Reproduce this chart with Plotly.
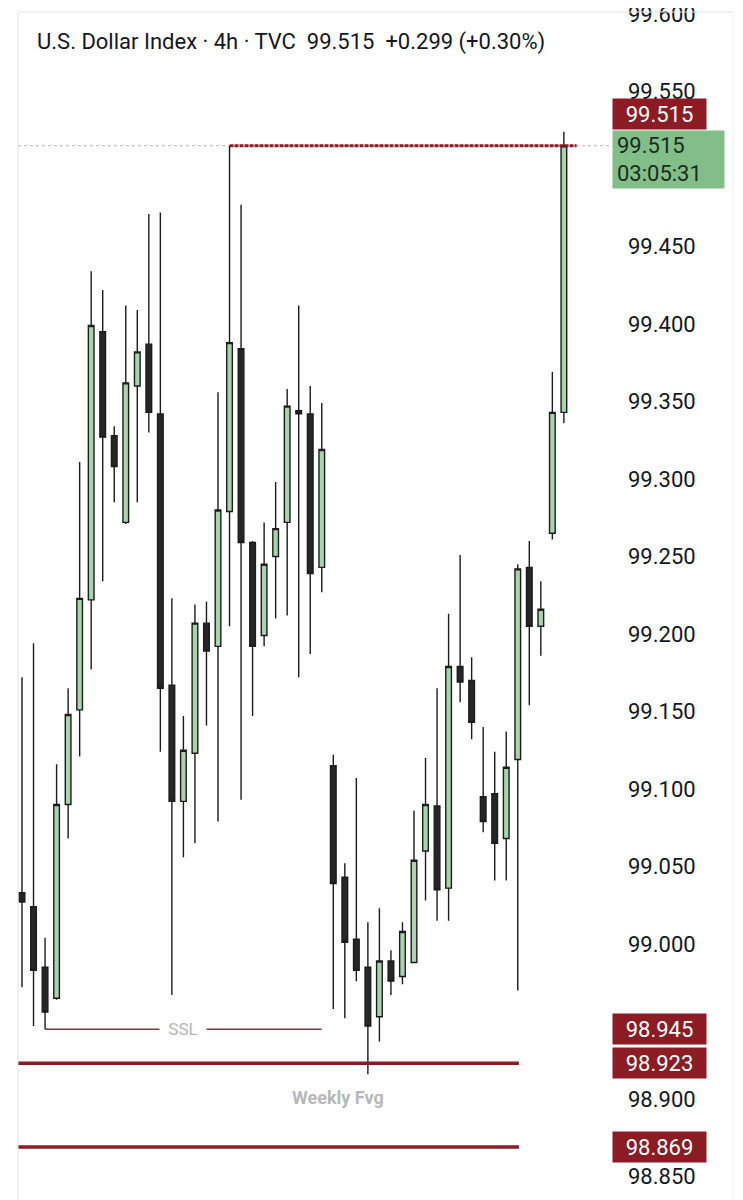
import plotly.graph_objects as go

# ---- data ----
opens = [99.033, 99.024, 98.985, 98.965, 99.090, 99.151, 99.222, 99.395, 99.328, 99.272,
         99.360, 99.387, 99.342, 99.167, 99.092, 99.123, 99.207, 99.192, 99.279, 99.384,
         99.259, 99.199, 99.250, 99.272, 99.344, 99.342, 99.243, 99.115, 99.043, 99.003,
         98.985, 98.953, 98.989, 98.979, 98.988, 99.060, 99.089, 99.036, 99.179, 99.170,
         99.095, 99.097, 99.068, 99.119, 99.243, 99.205, 99.265, 99.343]
highs = [99.172, 99.194, 99.004, 99.116, 99.165, 99.311, 99.434, 99.422, 99.334, 99.412,
         99.409, 99.471, 99.472, 99.223, 99.147, 99.219, 99.221, 99.356, 99.515, 99.477,
         99.260, 99.272, 99.298, 99.358, 99.412, 99.360, 99.349, 99.122, 99.052, 99.107,
         99.014, 99.023, 98.996, 99.014, 99.086, 99.120, 99.165, 99.213, 99.251, 99.185,
         99.140, 99.124, 99.137, 99.245, 99.260, 99.234, 99.369, 99.524]
lows = [98.972, 98.947, 98.945, 98.964, 99.068, 99.121, 99.177, 99.234, 99.285, 99.271,
        99.285, 99.330, 99.124, 98.967, 99.056, 99.065, 99.141, 99.079, 99.205, 99.093,
        99.147, 99.192, 99.210, 99.212, 99.172, 99.187, 99.227, 98.958, 98.952, 98.976,
        98.916, 98.937, 98.967, 98.974, 98.988, 99.028, 99.015, 99.015, 99.156, 99.132,
        99.072, 99.041, 99.041, 98.970, 99.154, 99.186, 99.261, 99.336]
closes = [99.027, 98.983, 98.956, 99.090, 99.148, 99.223, 99.399, 99.327, 99.308, 99.362,
          99.382, 99.343, 99.165, 99.092, 99.125, 99.207, 99.189, 99.280, 99.388, 99.259,
          99.192, 99.245, 99.268, 99.347, 99.342, 99.239, 99.319, 99.039, 99.001, 98.983,
          98.947, 98.989, 98.976, 99.008, 99.054, 99.090, 99.035, 99.179, 99.169, 99.143,
          99.079, 99.065, 99.114, 99.242, 99.205, 99.216, 99.343, 99.515]
bar_index = list(range(len(opens)))

tick_vals = [99.600, 99.550, 99.450, 99.400, 99.350, 99.300, 99.250, 99.200, 99.150,
             99.100, 99.050, 99.000, 98.900, 98.850]
tick_text = ["%.3f" % v for v in tick_vals]

title_text = "U.S. Dollar Index · 4h · TVC\u00a0\u00a099.515\u00a0\u00a0+0.299 (+0.30%)"
price_now = 99.515
countdown = "03:05:31"
high_level = 99.515          # red line from candle 18 high
high_level_start = 18
ssl_level = 98.945
ssl_start, ssl_end = 2, 26
fvg_top = 98.923
fvg_bottom = 98.869
fvg_end = 43.1
marker_labels = [98.945, 98.923, 98.869]

# ---- styles ----
RED = "#8c1c24"
GREEN_FILL = "#a8d4ad"
DARK_FILL = "#262626"
OUTLINE = "#1c1c1c"
TXT = "#131722"
FONT = "Roboto"

fig = go.Figure()
fig.add_trace(go.Candlestick(
    x=bar_index, open=opens, high=highs, low=lows, close=closes,
    increasing=dict(line=dict(color=OUTLINE, width=1.4), fillcolor=GREEN_FILL),
    decreasing=dict(line=dict(color=OUTLINE, width=1.4), fillcolor=DARK_FILL),
    whiskerwidth=0, showlegend=False, hoverinfo="skip",
))

shapes = []
# current price faint dotted line
shapes.append(dict(type="line", xref="paper", x0=0, x1=1, yref="y", y0=price_now, y1=price_now,
                   line=dict(color="#b2b5be", width=1, dash="dot"), layer="below"))
# red high line
shapes.append(dict(type="line", xref="x", x0=high_level_start, x1=48.1, yref="y",
                   y0=high_level, y1=high_level,
                   line=dict(color=RED, width=3, dash="4px,1px")))
# SSL line
shapes.append(dict(type="line", xref="x", x0=ssl_start, x1=ssl_end, yref="y",
                   y0=ssl_level, y1=ssl_level, line=dict(color="#7a3a3f", width=1.5),
                   layer="below"))
# weekly fvg lines
for lv in (fvg_top, fvg_bottom):
    shapes.append(dict(type="line", xref="x", x0=-0.35, x1=fvg_end, yref="y",
                       y0=lv, y1=lv, line=dict(color=RED, width=3.5)))
# pane borders
R = (733 - 18) / 592
shapes.append(dict(type="line", xref="paper", yref="paper", x0=0, x1=0, y0=0, y1=1,
                   line=dict(color="#e0e3eb", width=1)))
shapes.append(dict(type="line", xref="paper", yref="paper", x0=0, x1=R, y0=1, y1=1,
                   line=dict(color="#e0e3eb", width=1)))
shapes.append(dict(type="line", xref="paper", yref="paper", x0=R, x1=R, y0=0, y1=1,
                   line=dict(color="#eceef2", width=1)))

ann = []
ann.append(dict(text=title_text, xref="paper", yref="paper", x=(35 - 18) / 592,
                y=1 - (42 - 12) / 1188, xanchor="left", yanchor="middle", showarrow=False,
                font=dict(family=FONT, size=22, color=TXT)))
ann.append(dict(text="SSL", xref="x", yref="y", x=14, y=ssl_level, showarrow=False,
                bgcolor="white", width=40, borderpad=3, xanchor="center", yanchor="middle",
                font=dict(family=FONT, size=17, color="#b5b5b5")))
ann.append(dict(text="<b>Weekly Fvg</b>", xref="x", yref="y", x=27.4,
                y=(fvg_top + fvg_bottom) / 2 + 0.005, showarrow=False,
                xanchor="center", yanchor="middle",
                font=dict(family=FONT, size=18, color="#b8b8b8")))
LX = (612 - 18) / 592
# red high label (shifted above current-price label)
ann.append(dict(text=f"{high_level:.3f}", xref="paper", yref="y", x=LX, y=high_level,
                yshift=32, xanchor="left", yanchor="middle", showarrow=False,
                bgcolor=RED, width=85, height=22, borderpad=4, align="center",
                font=dict(family=FONT, size=22, color="white")))
# current price label
ann.append(dict(text=f"{price_now:.3f}<br>{countdown}", xref="paper", yref="y", x=LX,
                y=price_now, yshift=-14, xanchor="left", yanchor="middle", showarrow=False,
                bgcolor="#82be88", width=103, height=49, borderpad=4, align="left",
                font=dict(family=FONT, size=22, color="#1d2b1f")))
for lv in marker_labels:
    ann.append(dict(text=f"{lv:.3f}", xref="paper", yref="y", x=LX, y=lv,
                    xanchor="left", yanchor="middle", showarrow=False,
                    bgcolor=RED, width=85, height=22, borderpad=4, align="center",
                    font=dict(family=FONT, size=22, color="white")))

# page body has an 8px default margin, so offset the plot area by that amount
fig.update_layout(
    width=743, height=1200,
    margin=dict(l=10, r=141, t=4, b=8, autoexpand=False),
    paper_bgcolor="white", plot_bgcolor="white",
    showlegend=False,
    boxgap=0.3,
    shapes=shapes, annotations=ann,
    xaxis=dict(range=[-0.347, 51.0], showgrid=False, showticklabels=False, zeroline=False,
               showline=False, ticks="", rangeslider=dict(visible=False), fixedrange=True,
               automargin=False),
    yaxis=dict(side="right", range=[98.8348, 99.6013], showgrid=False, zeroline=False,
               showline=False, ticks="", tickvals=tick_vals, ticktext=tick_text,
               ticklabelstandoff=17, ticklabeloverflow="allow", automargin=False,
               tickfont=dict(family=FONT, size=22, color=TXT), fixedrange=True),
)

fig.write_html("out.html")
